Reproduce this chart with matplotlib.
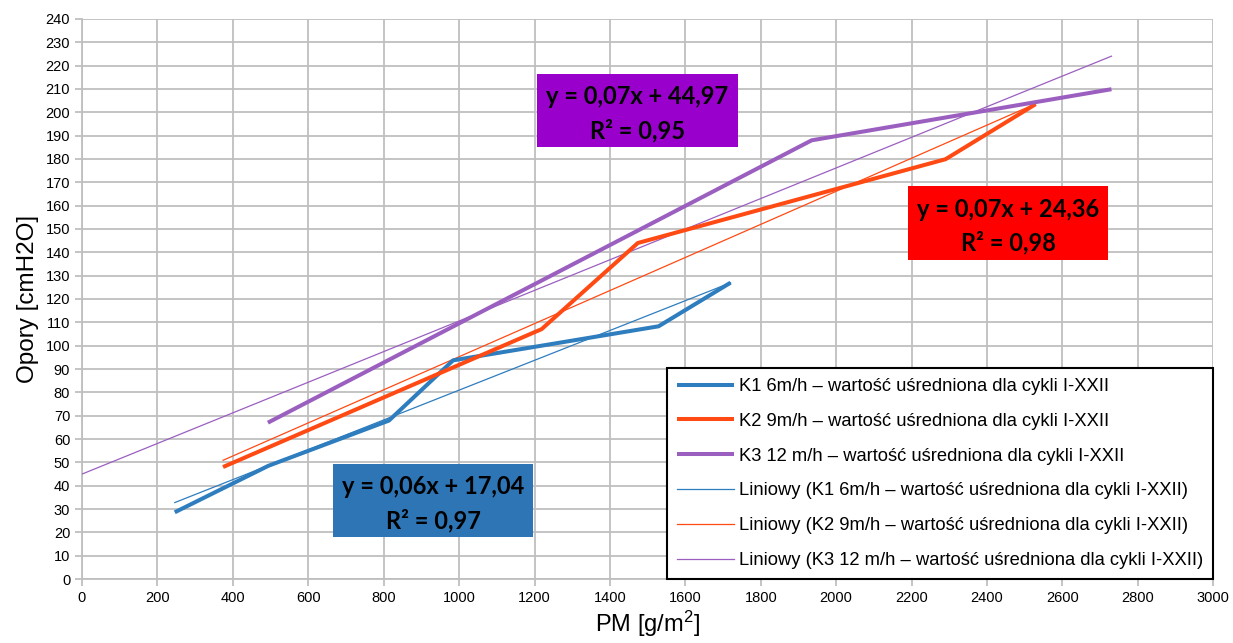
"""
Opory vs PM chart: averaged resistance curves for K1/K2/K3 with linear trendlines.
"""

import matplotlib
matplotlib.use("Agg")
import matplotlib.pyplot as plt
import matplotlib.patches as mpatches
import numpy as np

# ──────────────────────────────────────────────────────────────────────
#  Data
# ──────────────────────────────────────────────────────────────────────
k1_x = [246, 494, 814, 984, 1529, 1720]
k1_y = [28.6, 48.5, 67.9, 93.7, 108.3, 127.0]

k2_x = [374, 1219, 1474, 2290, 2529]
k2_y = [48.0, 107.1, 144.0, 179.9, 203.5]

k3_x = [493, 1935, 2730]
k3_y = [67.0, 188.0, 209.9]

# trendline slope / intercept, and x-range drawn (as seen in the picture)
trend_slope = [0.0639, 0.0709, 0.0656]
trend_icept = [17.04, 24.36, 44.97]
trend_xmin = [246, 374, 0]
trend_xmax = [1720, 2529, 2730]

labels = [
    "K1 6m/h – wartość uśredniona dla cykli I-XXII",
    "K2 9m/h – wartość uśredniona dla cykli I-XXII",
    "K3 12 m/h – wartość uśredniona dla cykli I-XXII",
]
eq_texts = [
    "y = 0,06x + 17,04\nR² = 0,97",
    "y = 0,07x + 24,36\nR² = 0,98",
    "y = 0,07x + 44,97\nR² = 0,95",
]

x_ticks = list(range(0, 3001, 200))
y_ticks = list(range(0, 241, 10))

# ──────────────────────────────────────────────────────────────────────
#  Style
# ──────────────────────────────────────────────────────────────────────
plt.rcParams["font.family"] = ["Liberation Sans", "DejaVu Sans"]
plt.rcParams["mathtext.default"] = "regular"

line_colors = ["#2e7dbf", "#ff4a14", "#9b5fc0"]
box_colors = ["#2e75b6", "#ff0000", "#9900cc"]
grid_color = "#bfbfbf"

fig = plt.figure(figsize=(12.33, 6.43), dpi=100)
ax = fig.add_axes([0.0665, 0.0995, 0.9175, 0.871])

series = [(k1_x, k1_y), (k2_x, k2_y), (k3_x, k3_y)]
handles = []
for (xs, ys), c, lab in zip(series, line_colors, labels):
    h, = ax.plot(xs, ys, color=c, lw=2.9, label=lab, solid_capstyle="butt", zorder=4)
    handles.append(h)

for i, c in enumerate(line_colors):
    tx = np.array([trend_xmin[i], trend_xmax[i]])
    ty = trend_slope[i] * tx + trend_icept[i]
    h, = ax.plot(tx, ty, color=c, lw=0.9, label="Liniowy (" + labels[i] + ")", zorder=3)
    handles.append(h)

ax.set_xlim(0, 3000)
ax.set_ylim(0, 240)
ax.set_xticks(x_ticks)
ax.set_yticks(y_ticks)
ax.grid(True, color=grid_color, lw=1.3)
ax.set_axisbelow(True)
for side in ["top", "right"]:
    ax.spines[side].set_visible(False)
for side in ["left", "bottom"]:
    ax.spines[side].set_color(grid_color)
    ax.spines[side].set_linewidth(1.3)
ax.tick_params(axis="both", colors=grid_color, labelcolor="black",
               labelsize=10.5, length=5, width=1.3, direction="out")

ax.set_xlabel("PM [g/m$^2$]", fontsize=17, labelpad=3)
ax.set_ylabel("Opory [cmH2O]", fontsize=17.5, labelpad=5)

leg = ax.legend(handles=handles, loc="lower right", bbox_to_anchor=(1.0, 0.0),
                fontsize=13.2, frameon=True, fancybox=False, framealpha=1,
                edgecolor="black", handlelength=3.1, handletextpad=0.27,
                labelspacing=0.97, borderpad=0.55, borderaxespad=0.0)
leg.get_frame().set_linewidth(1.5)
leg.set_zorder(6)

# ──────────────────────────────────────────────────────────────────────
#  Equation boxes (figure coordinates)
# ──────────────────────────────────────────────────────────────────────
box_pos = [  # left, bottom, width, height
    (0.2701, 0.1649, 0.1622, 0.1135),
    (0.7364, 0.5956, 0.1622, 0.1151),
    (0.4355, 0.7714, 0.1630, 0.1135),
]
for (x0, y0, w, h), fc, txt in zip(box_pos, box_colors, eq_texts):
    fig.add_artist(mpatches.Rectangle((x0, y0), w, h, transform=fig.transFigure,
                                      facecolor=fc, edgecolor="none", zorder=7))
    fig.text(x0 + w / 2, y0 + h / 2 - 0.005, txt, ha="center", va="center",
             fontsize=17, fontweight="bold", family=["Lato", "DejaVu Sans"],
             linespacing=1.55, zorder=8)

fig.savefig("out.png", dpi=100)
